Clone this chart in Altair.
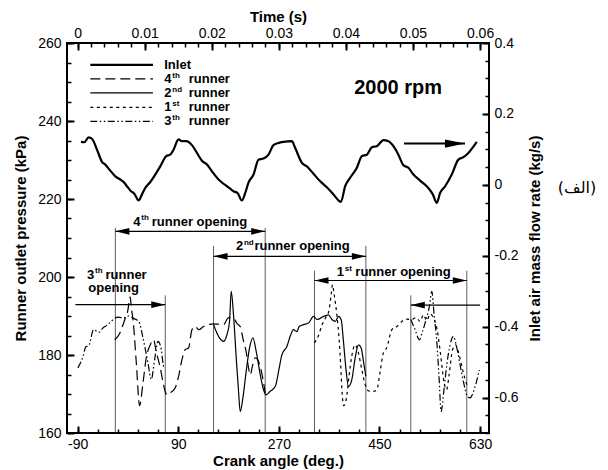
import altair as alt
import pandas as pd

# ---------------- scales and tick positions ----------------
CRANK_DOMAIN = [-109, 646]
P_DOMAIN = [160, 260]
FLOW_DOMAIN = [-0.7, 0.4]
TIME_DOMAIN = [-0.0015833, 0.0613333]

CRANK_MAJOR = [-90, 90, 270, 450, 630]
CRANK_MINOR = list(range(-90, 631, 36))
P_MAJOR = [160, 180, 200, 220, 240, 260]
P_MINOR = list(range(160, 261, 5))
FLOW_MAJOR = [-0.6, -0.4, -0.2, 0, 0.2, 0.4]
FLOW_MINOR = [round(-0.7 + 0.05 * i, 2) for i in range(23)]
TIME_MAJOR = [0, 0.01, 0.02, 0.03, 0.04, 0.05, 0.06]
TIME_MINOR = [round(0.002 * i, 3) for i in range(31)]

# ---------------- series ----------------
INLET_CRANK = [-83.9, -78.0, -70.3, -64.3, -55.3, -46.4, -40.5, -31.5, -22.6, -13.6,
               -7.8, -1.7, 5.5, 11.4, 19.1, 25.1, 31.0, 40.0, 48.9, 57.9,
               68.6, 75.8, 81.6, 90.6, 96.7, 104.4, 114.5, 123.5, 132.4, 141.4,
               150.3, 162.1, 171.0, 180.0, 188.9, 196.1, 203.9, 209.9, 215.7, 224.7,
               233.6, 242.6, 251.5, 260.4, 269.4, 278.3, 293.3, 299.3, 311.2, 320.2,
               332.0, 344.0, 355.9, 367.7, 381.0, 388.7, 397.6, 409.6, 418.5, 427.5,
               436.4, 445.3, 457.1, 466.1, 475.0, 483.9, 492.9, 501.8, 510.8, 522.7,
               534.7, 545.5, 552.6, 558.5, 567.5, 579.4, 591.2, 600.2, 609.1, 624.1]
INLET_FLOW = [0.121, 0.120, 0.134, 0.130, 0.099, 0.065, 0.057, 0.040, 0.024, 0.015,
              0.008, -0.004, -0.018, -0.025, -0.044, -0.027, -0.009, 0.008, 0.029, 0.052,
              0.081, 0.085, 0.099, 0.128, 0.123, 0.123, 0.112, 0.090, 0.068, 0.057,
              0.038, 0.015, 0.003, -0.007, -0.018, -0.023, -0.044, -0.023, 0.006, 0.029,
              0.071, 0.074, 0.085, 0.112, 0.118, 0.121, 0.123, 0.104, 0.062, 0.052,
              0.031, 0.010, -0.007, -0.027, -0.048, -0.004, 0.020, 0.048, 0.081, 0.085,
              0.106, 0.109, 0.126, 0.123, 0.109, 0.085, 0.055, 0.048, 0.029, 0.012,
              -0.004, -0.027, -0.051, -0.023, -0.004, 0.029, 0.071, 0.078, 0.090, 0.121]

R4_CRANK = [-23.5, -14.5, -5.6, -0.2, 3.9, 6.6, 9.1, 15.0, 20.9, 26.6,
            32.8, 40.0, 45.9, 50.7, 57.9, 64.1, 69.5, 75.8, 84.7, 90.1,
            96.7, 102.6, 108.5, 114.6, 120.5, 126.7, 135.3, 144.2, 153.2, 162.1,
            171.1, 180.0, 189.0, 195.6, 200.9, 206.3, 211.6, 215.8, 218.8, 223.3,
            227.7, 232.2, 236.7, 241.1, 245.6]
R4_P = [183.9, 185.6, 189.1, 191.4, 194.9, 191.6, 189.1, 178.0, 167.0, 172.4,
        179.3, 182.6, 183.9, 180.8, 176.7, 172.1, 169.8, 170.3, 171.6, 174.2,
        178.8, 181.4, 181.8, 186.5, 187.3, 186.5, 187.3, 187.8, 188.0, 187.9,
        187.8, 189.6, 189.4, 188.0, 187.3, 183.9, 180.8, 176.7, 174.9, 177.5,
        179.3, 178.8, 177.0, 174.2, 170.3]

R2_CRANK = [153.2, 159.3, 166.4, 171.1, 177.1, 181.8, 184.8, 188.9, 193.8, 197.9,
            200.9, 205.7, 211.6, 217.6, 223.6, 229.5, 233.6, 237.9, 242.6, 246.9,
            254.6, 263.5, 270.7, 275.5, 284.4, 290.3, 296.2, 302.3, 306.4, 314.1,
            323.2, 332.0, 338.1, 344.0, 349.9, 358.8, 364.9, 370.8, 376.7, 381.5,
            385.6, 389.9, 394.5, 400.6, 406.5, 412.4, 417.3, 421.4, 425.7]
R2_P = [187.8, 185.6, 183.9, 183.5, 185.2, 188.6, 196.3, 190.3, 179.2, 170.7,
        165.5, 169.0, 175.8, 181.8, 184.4, 180.9, 177.5, 174.1, 171.1, 169.8,
        170.7, 171.9, 176.7, 180.1, 182.2, 184.8, 186.5, 186.0, 187.3, 187.8,
        188.2, 189.9, 189.1, 189.4, 189.9, 190.3, 189.1, 188.6, 189.9, 189.1,
        183.5, 176.7, 171.9, 173.7, 179.2, 182.6, 181.8, 178.4, 174.5]

R1_CRANK = [333.8, 340.4, 347.5, 353.8, 359.2, 363.6, 366.0, 369.0, 373.8, 377.9,
            380.6, 383.3, 386.0, 389.6, 392.2, 395.8, 400.6, 406.5, 411.9, 418.5,
            424.4, 430.3, 439.3, 445.3, 451.2, 457.1, 463.2, 472.2, 481.1, 490.0,
            499.0, 507.9, 515.6, 522.8, 528.7, 534.7, 540.6, 547.8, 553.2, 559.4,
            565.7, 570.1, 574.6, 580.9, 586.2, 592.5, 599.6, 606.3]
R1_P = [183.1, 184.8, 187.8, 189.6, 191.1, 195.5, 198.0, 195.5, 190.3, 183.9,
        177.5, 170.0, 167.0, 168.0, 170.3, 174.9, 179.8, 182.6, 180.8, 176.2,
        172.4, 170.8, 170.7, 171.1, 175.7, 180.6, 181.9, 186.5, 187.3, 188.6,
        189.2, 189.1, 189.6, 188.6, 190.3, 188.8, 190.5, 189.1, 186.5, 180.1,
        172.9, 171.1, 174.9, 181.4, 182.6, 180.1, 175.7, 172.4]

R3A_CRANK = [-89.6, -80.3, -75.3, -70.0, -61.4, -52.1, -44.9, -37.8, -31.5, -25.6,
             -17.2, -7.7, 0.7, 9.6, 16.8, 21.2, 25.7, 30.2, 35.9, 41.8,
             47.7, 53.8, 59.7, 63.8, 66.8]
R3A_P = [176.7, 179.6, 182.1, 182.4, 186.5, 185.8, 186.9, 187.6, 188.4, 189.2,
         189.7, 189.5, 190.0, 189.4, 188.9, 188.1, 185.2, 182.1, 177.9, 173.7,
         178.8, 183.5, 181.4, 177.1, 176.7]
R3B_CRANK = [506.1, 513.8, 521.5, 526.3, 531.7, 539.4, 543.7, 547.8, 552.6, 556.7,
             560.3, 565.7, 570.5, 576.4, 582.3, 588.4, 594.3, 601.4, 607.3, 612.2,
             619.3, 628.8]
R3B_P = [189.1, 186.5, 183.9, 185.7, 188.2, 192.5, 196.3, 190.3, 183.5, 174.1,
         165.5, 171.5, 177.5, 182.6, 184.8, 181.8, 177.5, 172.4, 169.4, 169.0,
         171.1, 176.2]

# valve events (vertical guide lines)
VLINE_CRANK = [-22.5, 66.8, 153.2, 245.6, 333.8, 425.7, 506.1, 606.3]
VLINE_TOP = [212.6, 195.3, 208.0, 212.6, 201.6, 208.0, 195.3, 201.6]

# opening arrows
ARR_C1 = [-22.5, 153.2, 333.8, -94.0, 630.0]
ARR_C2 = [245.6, 425.7, 606.3, 66.8, 506.1]
ARR_P = [211.7, 205.3, 199.1, 192.9, 192.8]
HEAD_R_C = [245.6, 425.7, 606.3, 66.8]
HEAD_R_P = [211.7, 205.3, 199.1, 192.9]
HEAD_L_C = [-22.5, 153.2, 333.8, 506.1]
HEAD_L_P = [211.7, 205.3, 199.1, 192.8]
INLET_ARR_C = [494.0, 603.0]
INLET_ARR_P = 234.2

# annotation texts
ANN_C = [9.6, 193.2, 373.8, -73.2]
ANN_P = [214.2, 207.85, 201.2, 200.6]
ANN_NUM = ["4", "2", "1", "3"]
ANN_SUP = ["th", "nd", "st", "th"]
ANN_REST = ["runner opening", "runner opening", "runner opening", "runner"]
OPEN2_C, OPEN2_P = -25.6, 197.2
RPM_C, RPM_P = 483.4, 248.5

# legend rows
LEG_LINE_C = [-67.3, 44.8]
LEG_TEXT_C = 65.0
LEG_P = [254.4, 250.8, 247.2, 243.5, 239.9]
LEG_NUM = ["4", "2", "1", "3"]
LEG_SUP = ["th", "nd", "st", "th"]

FONT = "Liberation Sans"

SX = alt.Scale(domain=CRANK_DOMAIN, nice=False, zero=False)
SP = alt.Scale(domain=P_DOMAIN, nice=False, zero=False)
SF = alt.Scale(domain=FLOW_DOMAIN, nice=False, zero=False)
ST = alt.Scale(domain=TIME_DOMAIN, nice=False, zero=False)

DASH4 = [10, 5]
DASH1 = [3, 3.5]
DASH3 = [7, 2.5, 1.5, 2.5, 1.5, 2.5]

HEAD_RIGHT = "M0,0L-2,-0.48L-2,0.48Z"
HEAD_LEFT = "M0,0L2,-0.48L2,0.48Z"
HEAD_RIGHT_BIG = "M0,0L-2,-0.42L-2,0.42Z"


def xc(field="c"):
    return alt.X(f"{field}:Q", scale=SX, axis=None)


def yp(field="p"):
    return alt.Y(f"{field}:Q", scale=SP, axis=None)


def line_layer(c, p, dash=None, width=1.2, yfield_scale=SP):
    df = pd.DataFrame({"c": c, "p": p})
    kw = dict(color="black", strokeWidth=width, interpolate="monotone")
    if dash:
        kw["strokeDash"] = dash
    return alt.Chart(df).mark_line(**kw).encode(
        x=xc(), y=alt.Y("p:Q", scale=yfield_scale, axis=None))


layers = []

# vertical valve-event lines
vdf = pd.DataFrame({"c": VLINE_CRANK, "top": VLINE_TOP, "base": [160] * len(VLINE_CRANK)})
layers.append(alt.Chart(vdf).mark_rule(color="#333333", strokeWidth=0.8).encode(
    x=xc(), y=yp("top"), y2="base"))

# runner pressure traces
layers.append(line_layer(R4_CRANK, R4_P, DASH4))
layers.append(line_layer(R2_CRANK, R2_P))
layers.append(line_layer(R1_CRANK, R1_P, DASH1))
layers.append(line_layer(R3A_CRANK, R3A_P, DASH3))
layers.append(line_layer(R3B_CRANK, R3B_P, DASH3))
# inlet mass flow (right axis)
layers.append(line_layer(INLET_CRANK, INLET_FLOW, None, 2.2, SF))

# legend lines
leg_styles = [(None, 2.2), (DASH4, 1.2), (None, 1.2), (DASH1, 1.2), (DASH3, 1.2)]
for pv, (dash, w) in zip(LEG_P, leg_styles):
    layers.append(line_layer(LEG_LINE_C, [pv, pv], dash, w))

# arrows
adf = pd.DataFrame({"c1": ARR_C1, "c2": ARR_C2, "p": ARR_P})
layers.append(alt.Chart(adf).mark_rule(color="black", strokeWidth=1.2).encode(
    x=xc("c1"), x2="c2", y=yp()))
hr = pd.DataFrame({"c": HEAD_R_C, "p": HEAD_R_P})
hl = pd.DataFrame({"c": HEAD_L_C, "p": HEAD_L_P})
layers.append(alt.Chart(hr).mark_point(shape=HEAD_RIGHT, filled=True, color="black",
                                       opacity=1, size=196, strokeWidth=0).encode(x=xc(), y=yp()))
layers.append(alt.Chart(hl).mark_point(shape=HEAD_LEFT, filled=True, color="black",
                                       opacity=1, size=196, strokeWidth=0).encode(x=xc(), y=yp()))
idf = pd.DataFrame({"c1": [INLET_ARR_C[0]], "c2": [INLET_ARR_C[1]], "p": [INLET_ARR_P]})
layers.append(alt.Chart(idf).mark_rule(color="black", strokeWidth=2).encode(
    x=xc("c1"), x2="c2", y=yp()))
layers.append(alt.Chart(pd.DataFrame({"c": [INLET_ARR_C[1]], "p": [INLET_ARR_P]})).mark_point(
    shape=HEAD_RIGHT_BIG, filled=True, color="black", opacity=1, size=400, strokeWidth=0
).encode(x=xc(), y=yp()))

# annotation texts
txt = dict(font=FONT, fontWeight="bold", color="black", baseline="middle")
ann = pd.DataFrame({"c": ANN_C, "p": ANN_P, "num": ANN_NUM, "sup": ANN_SUP, "rest": ANN_REST})
layers.append(alt.Chart(ann).mark_text(align="left", fontSize=13, **txt).encode(
    x=xc(), y=yp(), text="num:N"))
layers.append(alt.Chart(ann).mark_text(align="left", fontSize=8, dx=8, dy=-3.5, **txt).encode(
    x=xc(), y=yp(), text="sup:N"))
layers.append(alt.Chart(ann).mark_text(align="left", fontSize=13, dx=18.5, **txt).encode(
    x=xc(), y=yp(), text="rest:N"))
layers.append(alt.Chart(pd.DataFrame({"c": [OPEN2_C], "p": [OPEN2_P], "t": ["opening"]})).mark_text(
    align="center", fontSize=13, **txt).encode(x=xc(), y=yp(), text="t:N"))
layers.append(alt.Chart(pd.DataFrame({"c": [RPM_C], "p": [RPM_P], "t": ["2000 rpm"]})).mark_text(
    align="center", fontSize=20, **txt).encode(x=xc(), y=yp(), text="t:N"))

# legend texts
leg = pd.DataFrame({"c": [LEG_TEXT_C] * 4, "p": LEG_P[1:], "num": LEG_NUM, "sup": LEG_SUP,
                    "rest": ["runner"] * 4})
layers.append(alt.Chart(pd.DataFrame({"c": [LEG_TEXT_C], "p": [LEG_P[0]], "t": ["Inlet"]})).mark_text(
    align="left", fontSize=13, **txt).encode(x=xc(), y=yp(), text="t:N"))
layers.append(alt.Chart(leg).mark_text(align="left", fontSize=13, **txt).encode(
    x=xc(), y=yp(), text="num:N"))
layers.append(alt.Chart(leg).mark_text(align="left", fontSize=8, dx=8, dy=-3, **txt).encode(
    x=xc(), y=yp(), text="sup:N"))
layers.append(alt.Chart(leg).mark_text(align="left", fontSize=13, dx=24.5, **txt).encode(
    x=xc(), y=yp(), text="rest:N"))

# side label
layers.append(alt.Chart(pd.DataFrame({"t": ["(الف)"]})).mark_text(
    font="DejaVu Sans", fontSize=16, color="black", align="center", baseline="middle"
).encode(x=alt.value(510), y=alt.value(145), text="t:N"))

# ---------------- axes (invisible carrier layers) ----------------
dom = pd.DataFrame({"c": CRANK_DOMAIN, "p": P_DOMAIN, "f": FLOW_DOMAIN, "t": TIME_DOMAIN})


def label_axis(orient, values, title, **kw):
    return alt.Axis(orient=orient, values=values, ticks=False, domain=False, grid=False,
                    labelExpr="'' + datum.value", labelFlush=False, title=title,
                    labelFont=FONT, labelFontSize=14, labelColor="black",
                    titleFont=FONT, titleFontSize=15, titleFontWeight="bold",
                    titleColor="black", **kw)


def tick_axis(orient, values, size, width):
    return alt.Axis(orient=orient, values=values, labels=False, domain=False, grid=False,
                    ticks=True, tickSize={"expr": str(-size)}, tickWidth=width,
                    tickColor="black", title=None)


def carrier(xenc, yenc):
    return alt.Chart(dom).mark_point(opacity=0).encode(x=xenc, y=yenc)


layers.append(carrier(
    alt.X("c:Q", scale=SX, axis=label_axis("bottom", CRANK_MAJOR, "Crank angle (deg.)",
                                           labelPadding=4, titlePadding=2)),
    alt.Y("p:Q", scale=SP, axis=label_axis("left", P_MAJOR, "Runner outlet pressure (kPa)",
                                           labelPadding=6, titlePadding=9))))
layers.append(carrier(
    alt.X("c:Q", scale=SX, axis=tick_axis("bottom", CRANK_MAJOR, 7, 2)),
    alt.Y("p:Q", scale=SP, axis=tick_axis("left", P_MAJOR, 7, 2))))
layers.append(carrier(
    alt.X("c:Q", scale=SX, axis=tick_axis("bottom", CRANK_MINOR, 4, 1.5)),
    alt.Y("p:Q", scale=SP, axis=tick_axis("left", P_MINOR, 4, 1.5))))
layers.append(carrier(
    alt.X("t:Q", scale=ST, axis=label_axis("top", TIME_MAJOR, "Time (s)",
                                           labelPadding=3, titlePadding=2)),
    alt.Y("f:Q", scale=SF, axis=label_axis("right", FLOW_MAJOR, "Inlet air mass flow rate (kg/s)",
                                           labelPadding=5, titlePadding=9,
                                           titleAngle=270, titleBaseline="top"))))
layers.append(carrier(
    alt.X("t:Q", scale=ST, axis=tick_axis("top", TIME_MAJOR, 7, 2)),
    alt.Y("f:Q", scale=SF, axis=tick_axis("right", FLOW_MAJOR, 7, 2))))
layers.append(carrier(
    alt.X("t:Q", scale=ST, axis=tick_axis("top", TIME_MINOR, 4, 1.5)),
    alt.Y("f:Q", scale=SF, axis=tick_axis("right", FLOW_MINOR, 4, 1.5))))

chart = alt.layer(*layers).resolve_scale(x="independent", y="independent").properties(
    width=422, height=390,
    padding={"left": 67, "top": 43, "right": 119, "bottom": 37},
    autosize="none",
    background="white",
).configure_view(stroke="black", strokeWidth=2)

chart.save("out.html", embed_options={"renderer": "svg", "actions": False})
